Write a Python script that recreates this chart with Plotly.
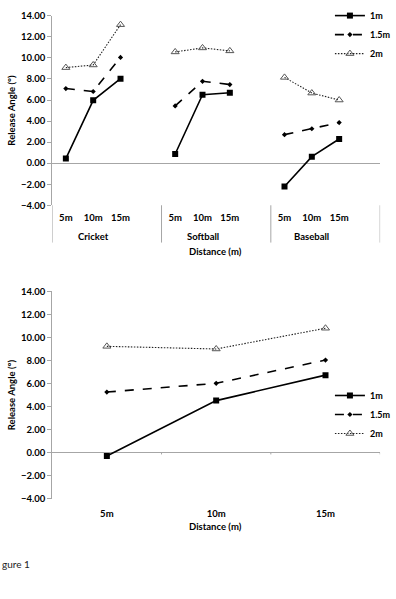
import plotly.graph_objects as go

# ---------------- data ----------------
groups = ["Cricket", "Softball", "Baseball"]
distances = ["5m", "10m", "15m"]
series_names = ["1m", "1.5m", "2m"]

top_1m = [0.44, 5.97, 8.03, 0.87, 6.50, 6.69, -2.21, 0.62, 2.30]
top_15m = [7.09, 6.81, 10.05, 5.44, 7.78, 7.47, 2.71, 3.27, 3.86]
top_2m = [9.08, 9.33, 13.16, 10.57, 10.95, 10.67, 8.15, 6.66, 6.00]

bottom_1m = [-0.28, 4.52, 6.73]
bottom_15m = [5.26, 6.02, 8.04]
bottom_2m = [9.23, 9.00, 10.80]

y_ticks = [-4, -2, 0, 2, 4, 6, 8, 10, 12, 14]

# ---------------- layout helpers ----------------
W, H = 396, 599
FONT = "Lato"
GRAY = "#a6a6a6"


def py(px):
    return 1 - px / H


def px_x(px):
    return px / W


styles = [
    dict(line=dict(color="black", width=1.6, dash="solid"),
         marker=dict(symbol="square", size=6, color="black")),
    dict(line=dict(color="black", width=1.6, dash="dash"),
         marker=dict(symbol="diamond", size=4, color="black")),
    dict(line=dict(color="#222222", width=1.1, dash="1.5px,1.5px"),
         marker=dict(symbol="triangle-up-open", size=7, color="#555555",
                     line=dict(width=1, color="#555555"))),
]

# grouped (top) chart: 4 slots per group, last slot empty
slots = 4
top_labels_x = []
for g in range(len(groups)):
    for d in range(len(distances)):
        top_labels_x.append(g * slots + d)


def with_gaps(vals):
    xs, ys = [], []
    i = 0
    for g in range(len(groups)):
        for d in range(len(distances)):
            xs.append(g * slots + d)
            ys.append(vals[i])
            i += 1
        xs.append(None)
        ys.append(None)
    return xs, ys


fig = go.Figure()

for name, vals, st in zip(series_names, [top_1m, top_15m, top_2m], styles):
    xs, ys = with_gaps(vals)
    fig.add_trace(go.Scatter(x=xs, y=ys, name=name, mode="lines+markers",
                             line=st["line"], marker=st["marker"],
                             xaxis="x", yaxis="y", legend="legend",
                             connectgaps=False))

for name, vals, st in zip(series_names, [bottom_1m, bottom_15m, bottom_2m], styles):
    fig.add_trace(go.Scatter(x=list(range(len(distances))), y=vals, name=name,
                             mode="lines+markers", line=st["line"],
                             marker=st["marker"], xaxis="x2", yaxis="y2",
                             legend="legend2"))

xdom = [px_x(53), px_x(386)]
ydom_top = [py(203), py(10)]
ydom_bot = [py(502), py(290.7)]

yaxis_common = dict(
    range=[-4, 14], tickvals=y_ticks, tickformat=".2f",
    showgrid=False, showline=True, linecolor=GRAY, linewidth=1,
    ticks="outside", ticklen=4, tickcolor=GRAY,
    zeroline=True, zerolinecolor=GRAY, zerolinewidth=1,
    tickfont=dict(family=FONT, size=9.5, color="black", weight="bold"),
    title=dict(text="<b>Release Angle (°)</b>", standoff=3,
               font=dict(family=FONT, size=9.5, color="black")),
)

legend_common = dict(xanchor="left", yanchor="top", bgcolor="rgba(0,0,0,0)",
                     tracegroupgap=0, itemwidth=30,
                     font=dict(family=FONT, size=9, color="black", weight="bold"))

fig.update_layout(
    width=W, height=H, margin=dict(l=0, r=0, t=0, b=0),
    paper_bgcolor="white", plot_bgcolor="white",
    font=dict(family=FONT, color="black"),
    xaxis=dict(domain=xdom, anchor="y", range=[-0.5, 11.5],
               tickvals=top_labels_x, ticktext=distances * len(groups),
               showgrid=False, zeroline=False, showline=False, ticks="",
               ticklabelstandoff=5,
               tickfont=dict(family=FONT, size=9.5, color="black", weight="bold")),
    yaxis=dict(domain=ydom_top, anchor="x", **yaxis_common),
    xaxis2=dict(domain=xdom, anchor="y2", range=[-0.5, 2.5],
                tickvals=list(range(len(distances))), ticktext=distances,
                showgrid=False, zeroline=False, showline=False, ticks="",
                ticklabelstandoff=8,
                tickfont=dict(family=FONT, size=9.5, color="black", weight="bold")),
    yaxis2=dict(domain=ydom_bot, anchor="x2", **yaxis_common),
    legend=dict(x=px_x(335), y=py(-5), **legend_common),
    legend2=dict(x=px_x(335), y=py(382), **legend_common),
    showlegend=True,
)

shapes = []
# group separators below the top chart
for g in range(len(groups) + 1):
    xv = g * slots - 0.5
    shapes.append(dict(type="line", xref="x", yref="paper", x0=xv, x1=xv,
                       y0=py(203), y1=py(241), line=dict(color=GRAY, width=1)))
# small category ticks on the bottom chart's zero line
for b in [0.5, 1.5, 2.5]:
    shapes.append(dict(type="line", xref="x2", yref="y2", x0=b, x1=b,
                       y0=0, y1=-0.15, line=dict(color=GRAY, width=1)))
fig.update_layout(shapes=shapes)

annotations = []
for g, gname in enumerate(groups):
    annotations.append(dict(text=f"<b>{gname}</b>", x=g * slots + 1, xref="x",
                            y=py(235), yref="paper", yanchor="middle",
                            showarrow=False,
                            font=dict(family=FONT, size=9.5, color="black")))
annotations.append(dict(text="<b>Distance (m)</b>", x=px_x(219), xref="paper",
                        y=py(250), yref="paper", yanchor="middle", showarrow=False,
                        font=dict(family=FONT, size=9.5, color="black")))
annotations.append(dict(text="<b>Distance (m)</b>", x=px_x(219), xref="paper",
                        y=py(530), yref="paper", yanchor="middle", showarrow=False,
                        font=dict(family=FONT, size=9.5, color="black")))
annotations.append(dict(text="gure 1", x=0, xref="paper", xanchor="left",
                        y=py(568), yref="paper", yanchor="middle", showarrow=False,
                        font=dict(family=FONT, size=10, color="#222222")))
fig.update_layout(annotations=annotations)

fig.write_html("out.html")
